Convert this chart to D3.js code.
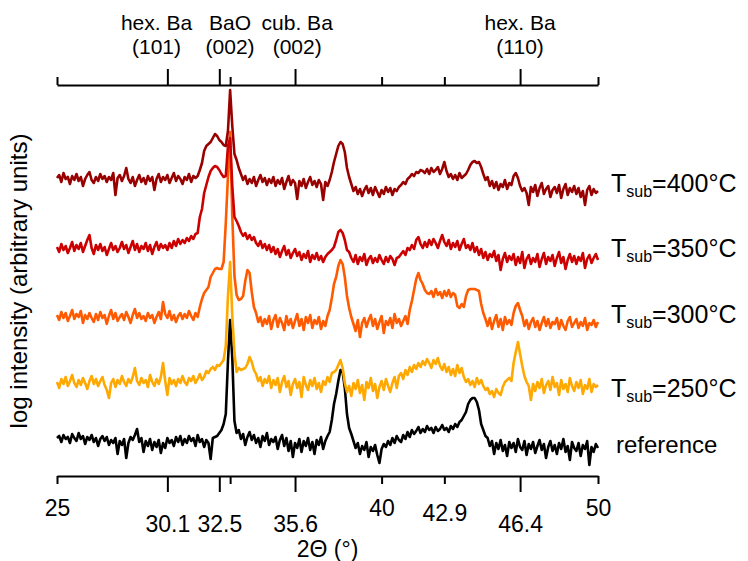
<!DOCTYPE html>
<html>
<head>
<meta charset="utf-8">
<script src="https://cdn.jsdelivr.net/npm/d3@7"></script>
<style>
  body { margin: 0; background: #fff; }
  text { font-family: "Liberation Sans", Arial, sans-serif; fill: #000; }
</style>
</head>
<body>
<svg id="chart" width="748" height="561"></svg>
<script>
// 2theta grid: 25.0 .. 50.0 in 0.1 deg steps (251 points)
const twoTheta = d3.range(251).map(i => +(25 + i * 0.1).toFixed(1));

// log intensity, arbitrary units (already offset per sample)
const reference = [
  38,40,34,41,37,39,33,42,38,35, 43,37,40,32,39,36,41,34,38,30,
  37,40,35,39,31,36,33,38,22,35, 31,37,18,33,39,36,41,47,34,38,
  24,35,30,37,26,34,29,36,23,33, 28,38,33,36,30,39,34,40,31,37,
  33,40,35,38,30,41,34,37,29,36, 33,17,38,39,40,43,46,52,62,115,
  156,118,55,43,46,37,42,31,39,44, 36,41,33,38,29,40,35,43,31,37,
  34,39,27,36,41,30,38,25,35,19, 33,28,37,24,35,30,38,26,34,22,
  36,31,39,27,35,40,44,56,72,82, 95,106,104,88,62,48,42,35,28,33,
  22,30,26,34,19,29,25,31,21,13, 27,32,29,35,31,38,33,40,36,34,
  41,37,44,39,46,42,45,49,43,47, 44,50,46,48,43,49,45,47,51,46,
  48,44,50,47,52,49,54,56,60,64, 72,76,78,78,74,66,52,46,40,38,
  30,35,22,33,27,36,25,31,20,34, 28,33,24,37,29,26,35,21,32,27,
  34,23,30,36,26,32,18,29,35,25, 31,22,33,27,37,24,30,16,34,28,
  25,33,20,31,27,35,11,29,24,32, 28
];
const t250 = [
  94,88,97,92,99,90,95,101,93,89, 96,91,98,93,87,95,100,92,97,90,
  95,99,91,86,78,93,97,89,96,92, 100,94,90,97,93,99,108,95,91,98,
  93,96,89,101,94,90,97,92,99,113, 95,81,98,92,96,90,97,93,100,94,
  91,98,95,100,93,97,102,96,99,105, 103,107,109,106,111,110,113,116,130,180,
  214,160,123,104,108,106,107,108,112,119, 114,106,102,95,99,90,97,93,100,88,
  96,91,98,84,94,100,89,95,81,92, 97,88,94,79,99,91,86,96,90,98,
  87,93,84,95,91,99,94,103,104,106, 111,116,108,93,84,90,80,93,87,96,
  83,91,76,94,88,98,85,92,78,89, 95,86,97,90,84,93,99,88,100,103,
  97,106,101,109,104,111,107,113,109,115, 111,117,113,108,116,112,118,110,106,112,
  104,109,101,107,100,111,103,108,99,94, 97,91,95,89,98,92,96,90,86,88,
  82,85,79,87,83,81,89,94,96,98, 95,113,124,134,122,110,100,94,90,76,
  92,85,94,88,97,83,91,95,86,99, 89,93,81,96,87,92,84,98,90,85,
  94,88,96,82,91,87,97,84,92,89, 91
];
const t300 = [
  161,156,164,158,163,155,160,166,157,162, 159,165,153,161,157,163,158,154,162,156,
  164,158,161,152,160,166,157,163,155,159, 162,156,164,159,153,161,167,158,163,157,
  160,155,163,158,161,153,159,164,157,174, 162,158,165,156,161,154,160,163,157,162,
  158,165,160,156,163,159,169,177,183,186, 189,199,203,207,208,207,207,214,253,300,
  344,260,200,181,176,177,180,195,206,203, 184,169,163,154,159,150,157,152,160,147,
  156,161,149,158,153,146,160,151,157,148, 155,162,150,157,146,159,153,161,148,156,
  152,159,147,155,150,160,166,178,192,199, 210,216,212,199,180,168,159,152,145,156,
  139,153,158,149,156,161,150,157,147,154, 160,143,155,151,158,148,162,153,157,150,
  155,160,152,166,175,186,197,203,196,192, 186,183,182,185,179,187,181,184,178,185,
  180,186,179,183,181,170,168,172,169,180, 186,187,187,187,186,185,172,163,157,150,
  158,147,155,161,149,157,146,159,152,156, 151,163,170,173,166,160,150,156,147,154,
  158,149,155,146,153,159,150,157,148,154, 152,158,147,156,150,146,155,159,149,153,
  157,148,154,150,158,146,153,151,156,149, 154
];
const t350 = [
  229,224,232,226,230,223,228,234,225,231, 227,233,224,230,236,241,228,222,231,226,
  232,225,229,221,227,233,226,230,224,228, 234,227,231,223,229,235,226,232,224,230,
  227,233,225,231,222,229,234,226,232,228, 231,226,233,228,235,230,237,232,236,233,
  238,235,240,237,242,243,259,267,283,291, 299,305,308,310,309,306,302,299,300,330,
  338,290,259,255,250,244,240,243,237,241, 236,239,233,230,235,228,232,226,231,224,
  229,222,227,219,225,230,221,226,218,223, 227,220,224,216,222,218,225,214,221,217,
  223,216,220,214,219,222,224,226,229,236, 244,246,243,236,226,224,218,214,221,212,
  219,215,222,211,217,220,213,218,214,221, 216,212,219,214,220,217,211,218,219,222,
  225,221,228,226,231,227,236,239,232,228, 234,229,236,231,237,233,228,235,241,234,
  230,236,227,233,229,235,226,232,237,228, 231,226,233,224,229,221,227,218,224,216,
  222,219,225,215,221,206,217,223,214,220, 216,222,211,219,213,224,208,217,221,212,
  218,214,222,209,217,223,212,219,215,221, 210,218,224,213,219,207,216,222,214,220,
  212,219,215,223,208,217,221,213,218,222, 216
];
const t400 = [
  298,301,294,303,297,299,292,300,296,302, 295,299,290,297,301,304,296,293,299,295,
  302,297,300,294,299,296,303,281,298,301, 295,300,308,297,293,299,290,296,301,294,
  298,292,300,295,299,286,297,302,294,299, 296,301,293,298,303,295,300,297,292,299,
  296,302,294,300,298,300,306,313,325,330, 332,334,338,342,340,336,334,331,330,345,
  386,350,322,316,308,302,296,300,292,297, 293,299,290,296,301,294,298,291,297,293,
  299,290,296,292,298,287,294,300,291,296, 293,277,295,290,297,288,294,299,291,295,
  289,296,292,276,294,290,296,304,314,322, 330,334,332,324,308,299,292,285,289,282,
  287,280,286,290,283,288,281,289,284,279, 286,282,289,284,288,281,287,285,289,291,
  294,292,297,299,302,300,304,303,306,305, 303,307,302,308,304,306,309,302,307,314,
  305,299,302,297,301,296,303,298,300,302, 306,311,314,315,313,314,309,302,296,299,
  290,295,288,294,286,292,289,296,287,293, 291,300,303,298,290,285,288,283,271,289,
  284,291,280,288,293,282,287,290,279,286, 289,283,291,278,287,292,281,288,284,290,
  282,288,279,285,271,286,290,281,287,283, 285
];

const sampleNames = ["reference", "250", "300", "350", "400"];
const sampleColors = ["#000000", "#ffa800", "#ff5a00", "#cc0000", "#990000"];
const sampleValues = [reference, t250, t300, t350, t400];

// axis ticks (bottom and top share positions)
const tickValues = [25, 30.1, 32.5, 33, 36, 40, 42.9, 46.4, 50];
const tickLabels = ["25", "30.1", "32.5", "", "35.6", "40", "42.9", "46.4", "50"];
const longTicks = [30.1, 32.5, 36, 46.4];

// phase labels on the top axis
const phaseNames = ["hex. Ba", "BaO", "cub. Ba", "hex. Ba"];
const phaseHkl = ["(101)", "(002)", "(002)", "(110)"];
const phasePos = [29.6, 33.0, 36.1, 46.4];

const svg = d3.select("#chart");
const x = d3.scaleLinear().domain([25, 50]).range([57, 598]);
const y = d3.scaleLinear().domain([0, 400]).range([476, 76]);

const line = d3.line()
  .x((d, i) => x(twoTheta[i]))
  .y(d => y(d));

sampleValues.forEach((vals, k) => {
  svg.append("path")
    .attr("d", line(vals))
    .attr("fill", "none")
    .attr("stroke", sampleColors[k])
    .attr("stroke-width", 2.6)
    .attr("stroke-linejoin", "round");
});

// bottom axis
const labelDrop = d => (d === 25 || d === 40 || d === 50) ? 40 : (d === 42.9 ? 45 : 56);
const xAxis = svg.append("g")
  .attr("transform", "translate(0,476)")
  .call(d3.axisBottom(x).tickValues(tickValues).tickSizeOuter(0)
    .tickFormat((d, i) => tickLabels[i]));
xAxis.select(".domain").attr("stroke-width", 2);
xAxis.selectAll(".tick line").attr("stroke-width", 2)
  .attr("y2", d => longTicks.includes(d) ? 16 : 8);
xAxis.selectAll(".tick text")
  .attr("font-family", null).attr("font-size", 23)
  .attr("y", d => labelDrop(d)).attr("dy", 0);

// top axis
const topAxis = svg.append("g")
  .attr("transform", "translate(0,85)")
  .call(d3.axisTop(x).tickValues(tickValues).tickSizeOuter(0).tickFormat(""));
topAxis.select(".domain").attr("stroke-width", 2);
topAxis.selectAll(".tick line").attr("stroke-width", 2)
  .attr("y2", d => longTicks.includes(d) ? -16 : -8);

const phase = svg.append("g").attr("font-size", 21).attr("text-anchor", "middle");
phaseNames.forEach((n, i) => {
  phase.append("text").attr("x", x(phasePos[i])).attr("y", 30).text(n);
  phase.append("text").attr("x", x(phasePos[i])).attr("y", 54).text(phaseHkl[i]);
});

// axis titles
svg.append("text")
  .attr("x", x(37.5)).attr("y", 557)
  .attr("text-anchor", "middle").attr("font-size", 23)
  .text("2\u0398 (\u00b0)");
svg.append("text")
  .attr("transform", "translate(27,281) rotate(-90)")
  .attr("text-anchor", "middle").attr("font-size", 24)
  .text("log intensity (arbitrary units)");

// sample labels at right
const labelBase = [453, 397, 323, 257, 192];
sampleNames.forEach((n, k) => {
  if (n === "reference") {
    svg.append("text").attr("x", 616).attr("y", labelBase[k])
      .attr("font-size", 24).text("reference");
    return;
  }
  const t = svg.append("text").attr("x", 611).attr("y", labelBase[k]).attr("font-size", 25);
  t.append("tspan").text("T");
  t.append("tspan").attr("font-size", 16).attr("dy", 5).text("sub");
  t.append("tspan").attr("dy", -5).text("=" + n + "\u00b0C");
});
</script>
</body>
</html>
